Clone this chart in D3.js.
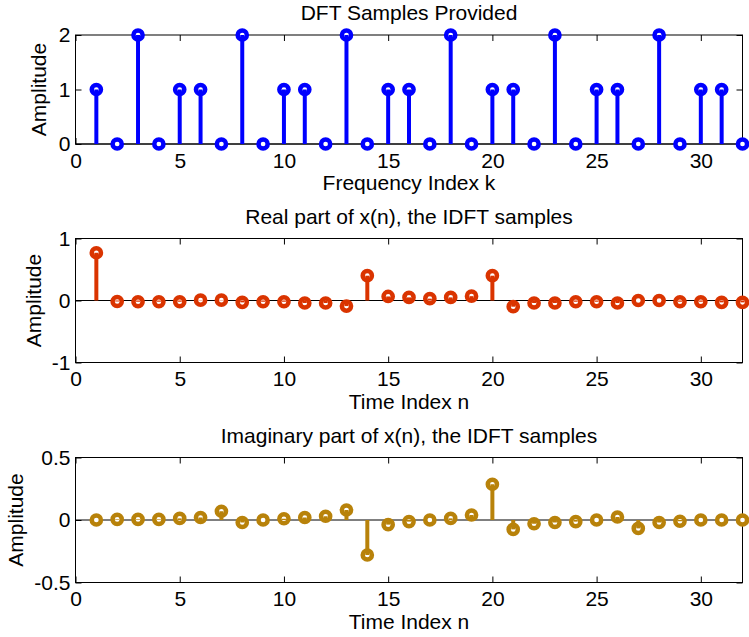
<!DOCTYPE html>
<html>
<head>
<meta charset="utf-8">
<script src="https://cdn.jsdelivr.net/npm/d3@7/dist/d3.min.js"></script>
<style>
  html, body { margin: 0; padding: 0; background: #fff; }
  svg { display: block; }
  text { font-family: "Liberation Sans", Arial, Helvetica, sans-serif; fill: #000; }
</style>
</head>
<body>
<svg id="chart" width="749" height="637"></svg>
<script>
// Sample indices 1..32
const indices = d3.range(1, 33);

// DFT samples X(k)
const dftSamples = [1, 0, 2, 0, 1, 1, 0, 2, 0, 1, 1, 0, 2, 0, 1, 1,
                    0, 2, 0, 1, 1, 0, 2, 0, 1, 1, 0, 2, 0, 1, 1, 0];

// Real part of the IDFT x(n)
const realPart = [0.77, -0.016, -0.02, -0.02, -0.02, 0.005, 0.005, -0.03,
                  -0.02, -0.02, -0.04, -0.04, -0.09, 0.40, 0.065, 0.05,
                  0.03, 0.05, 0.07, 0.40, -0.10, -0.04, -0.04, -0.02,
                  -0.02, -0.04, 0.0, 0.0, -0.02, -0.02, -0.03, -0.03];

// Imaginary part of the IDFT x(n)
const imagPart = [0.0, 0.005, 0.005, 0.005, 0.013, 0.02, 0.07, -0.02,
                  0.0, 0.01, 0.02, 0.03, 0.08, -0.28, -0.037, -0.013,
                  0.0, 0.013, 0.04, 0.286, -0.075, -0.03, -0.02, -0.013,
                  0.0, 0.024, -0.067, -0.02, -0.01, 0.0, 0.0, 0.0];

const xTicks = [0, 5, 10, 15, 20, 25, 30];
const yTicksTop = [0, 1, 2];
const yTicksMid = [-1, 0, 1];
const yTicksBot = [-0.5, 0, 0.5];

// plain hyphen-minus for negative tick labels
const plain = v => String(v);

const svg = d3.select("#chart");
const left = 75.5, right = 742.5;
const fontSize = 21;

const panels = [
  { title: "DFT Samples Provided", xlabel: "Frequency Index k",
    values: dftSamples, yDomain: [0, 2], yTicks: yTicksTop,
    top: 35, bottom: 144, color: "#0000ff", ylabelX: 46 },
  { title: "Real part of x(n), the IDFT samples", xlabel: "Time Index n",
    values: realPart, yDomain: [-1, 1], yTicks: yTicksMid,
    top: 238.5, bottom: 362.5, color: "#da3400", ylabelX: 41 },
  { title: "Imaginary part of x(n), the IDFT samples", xlabel: "Time Index n",
    values: imagPart, yDomain: [-0.5, 0.5], yTicks: yTicksBot,
    top: 457.5, bottom: 582.5, color: "#b8820a", ylabelX: 23 }
];

panels.forEach(p => {
  const x = d3.scaleLinear().domain([0, 32]).range([left, right]);
  const y = d3.scaleLinear().domain(p.yDomain).range([p.bottom, p.top]);
  const g = svg.append("g");

  // axes: ticks pointing inward on all four sides
  const styleAxis = sel => {
    sel.select(".domain").remove();
    sel.selectAll(".tick line").attr("stroke", "#000").attr("stroke-width", 1);
    sel.selectAll(".tick text").attr("font-size", fontSize)
      .attr("font-family", "Liberation Sans, Arial, Helvetica, sans-serif");
  };

  g.append("g").attr("transform", `translate(0,${p.bottom})`)
    .call(d3.axisBottom(x).tickValues(xTicks).tickSize(-6).tickPadding(9).tickFormat(plain))
    .call(styleAxis);
  g.append("g").attr("transform", `translate(0,${p.top})`)
    .call(d3.axisTop(x).tickValues(xTicks).tickSize(-6).tickFormat(""))
    .call(styleAxis);
  g.append("g").attr("transform", `translate(${left},0)`)
    .call(d3.axisLeft(y).tickValues(p.yTicks).tickSize(-6).tickPadding(5).tickFormat(plain))
    .call(styleAxis);
  g.append("g").attr("transform", `translate(${right},0)`)
    .call(d3.axisRight(y).tickValues(p.yTicks).tickSize(-6).tickFormat(""))
    .call(styleAxis);

  // frame
  g.append("rect")
    .attr("x", left).attr("y", p.top)
    .attr("width", right - left).attr("height", p.bottom - p.top)
    .attr("fill", "none").attr("stroke", "#000").attr("stroke-width", 1);

  // zero baseline
  g.append("line")
    .attr("x1", x(0)).attr("x2", x(32))
    .attr("y1", y(0)).attr("y2", y(0))
    .attr("stroke", "#000").attr("stroke-width", 1);

  const pts = indices.map((n, i) => ({ n, v: p.values[i] }));

  // marker circles
  g.append("g").selectAll("circle").data(pts).join("circle")
    .attr("cx", d => x(d.n)).attr("cy", d => y(d.v))
    .attr("r", 4.6).attr("fill", "#fff")
    .attr("stroke", p.color).attr("stroke-width", 4.5);

  // stems from baseline to the marker center
  g.append("g").selectAll("line").data(pts).join("line")
    .attr("x1", d => x(d.n)).attr("x2", d => x(d.n))
    .attr("y1", y(0)).attr("y2", d => y(d.v))
    .attr("stroke", p.color).attr("stroke-width", 4);

  // title
  g.append("text")
    .attr("x", (left + right) / 2).attr("y", p.top - 15)
    .attr("text-anchor", "middle").attr("font-size", fontSize)
    .text(p.title);

  // x label
  g.append("text")
    .attr("x", (left + right) / 2).attr("y", p.bottom + 46)
    .attr("text-anchor", "middle").attr("font-size", fontSize)
    .text(p.xlabel);

  // y label
  g.append("text")
    .attr("transform", `translate(${p.ylabelX},${(p.top + p.bottom) / 2}) rotate(-90)`)
    .attr("text-anchor", "middle").attr("font-size", fontSize)
    .text("Amplitude");
});
</script>
</body>
</html>
